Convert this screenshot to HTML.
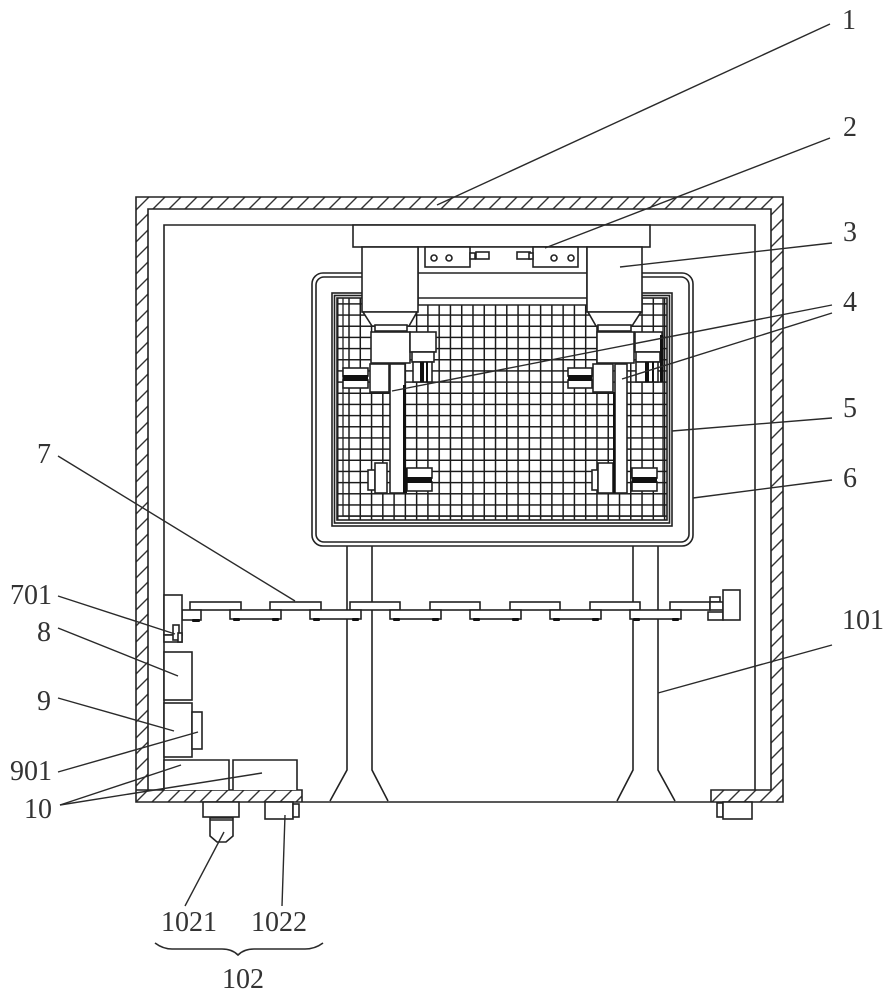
<!DOCTYPE html>
<html>
<head>
<meta charset="utf-8">
<style>
html,body{margin:0;padding:0;background:#fff;width:893px;height:1000px;overflow:hidden}
svg{display:block}
text{font-family:"Liberation Serif",serif;font-size:28px;fill:#333;text-anchor:middle}
.p rect,.p path,.p circle,.p polygon{stroke:#222;stroke-width:1.6;fill:#fff}
.n{fill:none;stroke:#222;stroke-width:1.6}
.l{fill:none;stroke:#2a2a2a;stroke-width:1.4}
.k{fill:#111;stroke:none}
</style>
</head>
<body>
<svg width="893" height="1000" viewBox="0 0 893 1000" xmlns="http://www.w3.org/2000/svg">
<defs>
<pattern id="h" patternUnits="userSpaceOnUse" width="16" height="16" x="136" y="2">
<path d="M-2 18L18 -2M-2 2L2 -2M14 18L18 14" stroke="#333" stroke-width="1.4" fill="none"/>
</pattern>
<pattern id="m" patternUnits="userSpaceOnUse" width="11.27" height="11.17" x="337" y="403.7">
<path d="M.7 0V11.17M0 .7H11.27" stroke="#1a1a1a" stroke-width="1.6" fill="none"/>
</pattern>
</defs>

<!-- housing -->
<path fill="url(#h)" fill-rule="evenodd" d="M136 197H783V802H711V790H771V209H148V790H302V802H136Z"/>
<g class="n">
<path d="M136 197H783V802H136Z"/>
<path d="M148 790V209H771V790"/>
<path d="M164 790V225H755V790"/>
<path d="M136 790H302V802M711 802V790H771"/>
</g>

<!-- legs -->
<g class="n">
<path d="M347 546V770L330 801M372 546V770L388 801"/>
<path d="M633 546V770L617 801M658 546V770L675 801"/>
</g>

<!-- frame 6 -->
<g class="p">
<rect x="312" y="273" width="381" height="273" rx="11"/>
<rect x="316" y="277" width="373" height="265" rx="8"/>
<rect x="332" y="293" width="340" height="233"/>
<rect x="334.500" y="295.500" width="335" height="227.500"/>
</g>
<rect x="337" y="298" width="330" height="222" fill="url(#m)"/>
<g class="n">
<rect x="337" y="298" width="330" height="222"/>
<path d="M343 298V516H663V298" stroke-width="1.3"/>
<path d="M337 516H667" stroke-width="1.3"/>
</g>

<!-- head assembly -->
<g class="p">
<rect x="353" y="225" width="297" height="22"/>
<path d="M418 247H587V305H418Z"/>
<path d="M418 273H587M418 298H587" fill="none"/>
<rect x="425" y="247" width="45" height="20"/>
<circle cx="434" cy="258" r="3"/><circle cx="449" cy="258" r="3"/>
<rect x="470" y="253" width="5" height="6"/>
<rect x="476" y="252" width="13" height="7"/>
<rect x="533" y="247" width="45" height="20"/>
<circle cx="554" cy="258" r="3"/><circle cx="571" cy="258" r="3"/>
<rect x="517" y="252" width="13" height="7"/>
<rect x="529" y="253" width="4" height="6"/>

<!-- left motor -->
<rect x="362" y="247" width="56" height="65"/>
<polygon points="363,312 417,312 409,326 372,326"/>
<rect x="375" y="325" width="32" height="6"/>
<rect x="371" y="332" width="39" height="31"/>
<rect x="410" y="332" width="26" height="20"/>
<rect x="412" y="352" width="22" height="10"/>
<rect x="413" y="362" width="19" height="20"/>
<rect x="343" y="368" width="25" height="8"/>
<rect x="343" y="380" width="25" height="8"/>
<rect x="370" y="364" width="19" height="28"/>
<rect x="390" y="364" width="15" height="129"/>
<rect x="368" y="470" width="7" height="20"/>
<rect x="375" y="463" width="12" height="30"/>
<rect x="407" y="468" width="25" height="10"/>
<rect x="407" y="482" width="25" height="9"/>

<!-- right motor -->
<rect x="587" y="247" width="55" height="65"/>
<polygon points="588,312 641,312 632,326 596,326"/>
<rect x="598" y="325" width="33" height="6"/>
<rect x="597" y="332" width="37" height="31"/>
<rect x="635" y="332" width="27" height="20"/>
<rect x="636" y="352" width="24" height="10"/>
<rect x="636" y="362" width="22" height="20"/>
<rect x="568" y="368" width="24" height="8"/>
<rect x="568" y="380" width="24" height="8"/>
<rect x="593" y="364" width="20" height="28"/>
<rect x="615" y="364" width="12" height="129"/>
<rect x="592" y="470" width="6" height="20"/>
<rect x="598" y="463" width="15" height="30"/>
<rect x="632" y="468" width="25" height="10"/>
<rect x="632" y="482" width="25" height="9"/>
</g>
<g class="k">
<rect x="343" y="375" width="25" height="6"/>
<rect x="403" y="385" width="3" height="108"/>
<rect x="420" y="362" width="4" height="20"/>
<rect x="426" y="362" width="2" height="20"/>
<rect x="407" y="477" width="25" height="6"/>
<rect x="404" y="468" width="3" height="25"/>
<rect x="568" y="375" width="24" height="6"/>
<rect x="613" y="392" width="2.500" height="101"/>
<rect x="645" y="362" width="4" height="20"/>
<rect x="652" y="362" width="2" height="20"/>
<rect x="660" y="335" width="3" height="47"/>
<rect x="632" y="477" width="25" height="6"/>
</g>

<!-- rail -->
<g class="p">
<rect x="190" y="602" width="51" height="8"/>
<rect x="270" y="602" width="51" height="8"/>
<rect x="350" y="602" width="50" height="8"/>
<rect x="430" y="602" width="50" height="8"/>
<rect x="510" y="602" width="50" height="8"/>
<rect x="590" y="602" width="50" height="8"/>
<rect x="670" y="602" width="40" height="8"/>
<rect x="182" y="610" width="19" height="10"/>
<rect x="230" y="610" width="51" height="9"/>
<rect x="310" y="610" width="51" height="9"/>
<rect x="390" y="610" width="51" height="9"/>
<rect x="470" y="610" width="51" height="9"/>
<rect x="550" y="610" width="51" height="9"/>
<rect x="630" y="610" width="51" height="9"/>
<rect x="164" y="595" width="18" height="40"/>
<rect x="164" y="635" width="18" height="7"/>
<rect x="173" y="625" width="6" height="15"/>
<rect x="178" y="633" width="4" height="9"/>
<rect x="708" y="612" width="15" height="8"/>
<rect x="710" y="597" width="10" height="5"/>
<rect x="710" y="602" width="13" height="8"/>
<rect x="723" y="590" width="17" height="30"/>
</g>
<g class="k">
<rect x="192" y="619" width="8" height="3" rx="1"/>
<rect x="233" y="618" width="7" height="3" rx="1"/><rect x="272" y="618" width="7" height="3" rx="1"/>
<rect x="313" y="618" width="7" height="3" rx="1"/><rect x="352" y="618" width="7" height="3" rx="1"/>
<rect x="393" y="618" width="7" height="3" rx="1"/><rect x="432" y="618" width="7" height="3" rx="1"/>
<rect x="473" y="618" width="7" height="3" rx="1"/><rect x="512" y="618" width="7" height="3" rx="1"/>
<rect x="553" y="618" width="7" height="3" rx="1"/><rect x="592" y="618" width="7" height="3" rx="1"/>
<rect x="633" y="618" width="7" height="3" rx="1"/><rect x="672" y="618" width="7" height="3" rx="1"/>
</g>

<!-- left side units -->
<g class="p">
<rect x="164" y="652" width="28" height="48"/>
<rect x="164" y="703" width="28" height="54"/>
<rect x="192" y="712" width="10" height="37"/>
<path d="M164 790V760H229V790"/>
<path d="M233 790V760H297V790"/>
<!-- underside -->
<rect x="203" y="802" width="36" height="15"/>
<path d="M210 818H233V836L226 842H217L210 836Z"/>
<path d="M210 820H233" fill="none"/>
<rect x="265" y="802" width="28" height="17"/>
<rect x="293" y="804" width="6" height="13"/>
<rect x="717" y="803" width="6" height="14"/>
<rect x="723" y="802" width="29" height="17"/>
</g>

<!-- leaders -->
<g class="l">
<path d="M830 24L437 205"/>
<path d="M830 138L545 248"/>
<path d="M832 243L620 267"/>
<path d="M832 305L392 391"/>
<path d="M832 313L622 379"/>
<path d="M832 418L672 431"/>
<path d="M832 480L693 498"/>
<path d="M832 645L658 693"/>
<path d="M58 456L295 601"/>
<path d="M58 596L175 634"/>
<path d="M58 628L178 676"/>
<path d="M58 698L174 731"/>
<path d="M58 772L198 732"/>
<path d="M60 805L181 765"/>
<path d="M60 805L262 773"/>
<path d="M185 906L224 832"/>
<path d="M282 906L285 815"/>
<path d="M155 943Q163 949 172 949H222Q232 949 238 955Q244 949 254 949H305Q315 949 323 943" stroke-width="1.6"/>
</g>

<!-- labels -->
<text x="849" y="29">1</text>
<text x="850" y="136">2</text>
<text x="850" y="241">3</text>
<text x="850" y="311">4</text>
<text x="850" y="417">5</text>
<text x="850" y="487">6</text>
<text x="863" y="629">101</text>
<text x="44" y="463">7</text>
<text x="31" y="604">701</text>
<text x="44" y="641">8</text>
<text x="44" y="710">9</text>
<text x="31" y="780">901</text>
<text x="38" y="818">10</text>
<text x="189" y="931">1021</text>
<text x="279" y="931">1022</text>
<text x="243" y="988">102</text>
</svg>
</body>
</html>
